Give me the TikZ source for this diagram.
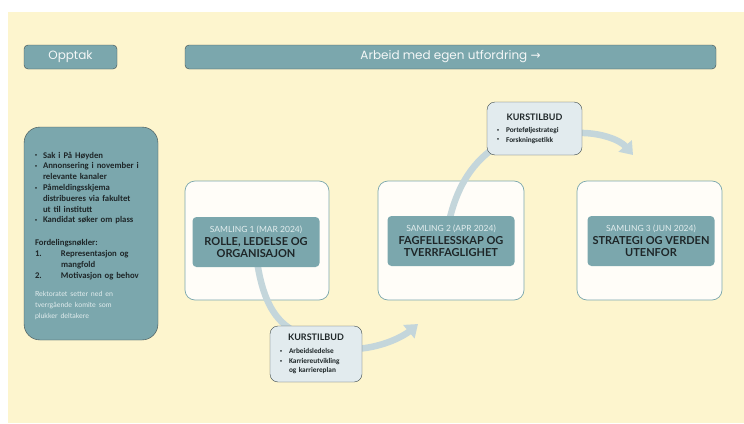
\documentclass[tikz,border=0pt]{standalone}
\usepackage{fontspec}
\setmainfont{Carlito}
\newfontfamily\headfont{Lato}
\newfontfamily\barfont{Poppins}
\newfontfamily\symbfont{DejaVu Sans}
\usetikzlibrary{arrows.meta}
\definecolor{paper}{HTML}{FDF5CE}
\definecolor{tealbox}{HTML}{7BA7AD}
\definecolor{darkline}{HTML}{3E4B4D}
\definecolor{cardfill}{HTML}{FFFDF8}
\definecolor{kursfill}{HTML}{E2EBEE}
\definecolor{flowcol}{HTML}{C4D6DB}
\definecolor{inktext}{HTML}{1E2628}
\definecolor{softtext}{HTML}{E2EDEE}
\definecolor{barwhite}{HTML}{F4F7F7}
\pgfdeclarelayer{back}
\pgfdeclarelayer{mid}
\pgfsetlayers{back,mid,main}
\newcommand\prikk{\raisebox{0.35ex}{\fontsize{4}{4}\selectfont\textbullet}}
\newcommand\bpunkt[2][8pt]{\par\hangindent=#1\hangafter=1\noindent\makebox[#1][l]{\prikk}#2\par}
\newcommand\npunkt[2]{\par\hangindent=26pt\hangafter=1\noindent\makebox[26pt][l]{#1}#2\par}

\begin{document}
\begin{tikzpicture}[x=1pt,y=-1pt,
    bar/.style={draw=darkline,fill=tealbox,rounded corners=4pt,minimum height=24pt,inner sep=0pt,
        text=barwhite,font=\barfont\fontsize{12}{14}\selectfont},
    infobox/.style={draw=darkline,fill=tealbox,rounded corners=16pt,text width=112pt,inner xsep=11pt,
        minimum height=213pt,align=left,text=inktext,font=\bfseries\fontsize{8.7}{10.8}\selectfont},
    card/.style={draw=tealbox,fill=cardfill,rounded corners=10pt,line width=0.7pt,minimum height=119pt},
    theme/.style={fill=tealbox,rounded corners=4pt,minimum width=127pt,minimum height=50pt,inner sep=0pt,
        align=center,text=inktext,font=\headfont\bfseries\fontsize{11}{12.5}\selectfont},
    kurs/.style={draw=darkline,fill=kursfill,rounded corners=8pt,inner xsep=10pt,align=left,
        text=inktext,font=\bfseries\fontsize{7.3}{9.5}\selectfont},
    flow/.style={draw=flowcol,line width=6.5pt},
    flowhead/.style={flow,-{Triangle[width=17pt,length=12pt]}}]

    \useasboundingbox (0,0) rectangle (744,423);

    \begin{pgfonlayer}{back}
        \fill[white] (0,0) rectangle (744,423);
        \fill[paper] (8,12) rectangle (744,423);
        \node[card,minimum width=144pt] (card1) at (257,240.5) {};
        \node[card,minimum width=146pt] (card2) at (451,240.5) {};
        \node[card,minimum width=145pt] (card3) at (649.5,240.5) {};
    \end{pgfonlayer}

    \node[bar,minimum width=93pt] (opptak) at (70.5,57) {Opptak};
    \node[bar,minimum width=531pt] (arbeid) at (450.5,57) {Arbeid med egen utfordring {\symbfont →}};

    \node[infobox] (opptakinfo) at (91,233.5) {
        \bpunkt{Sak i På Høyden}
        \bpunkt{Annonsering i november i\newline relevante kanaler}
        \bpunkt{Påmeldingsskjema\newline distribueres via fakultet\newline ut til institutt}
        \bpunkt{Kandidat søker om plass}
        \vspace{12pt}\noindent Fordelingsnøkler:
        \npunkt{1.}{Representasjon og\newline mangfold}
        \npunkt{2.}{Motivasjon og behov}
        \vspace{8pt}{\headfont\mdseries\fontsize{7}{10.8}\selectfont\color{softtext}\noindent
        Rektoratet setter ned en\newline tverrgående komite som\newline plukker deltakere\par}
    };

    \node[theme] (theme1) at (256,242) {{\mdseries\fontsize{8.5}{12.5}\selectfont\color{softtext}SAMLING 1 (MAR 2024)}\\ROLLE, LEDELSE OG\\ORGANISAJON};
    \node[theme] (theme2) at (451,241) {{\mdseries\fontsize{8.5}{12.5}\selectfont\color{softtext}SAMLING 2 (APR 2024)}\\FAGFELLESSKAP OG\\TVERRFAGLIGHET};
    \node[theme] (theme3) at (651,241) {{\mdseries\fontsize{8.5}{12.5}\selectfont\color{softtext}SAMLING 3 (JUN 2024)}\\STRATEGI OG VERDEN\\UTENFOR};

    \node[kurs,text width=72pt,minimum height=56pt] (kurs1) at (316,354) {
        {\centering\headfont\bfseries\fontsize{9}{12}\selectfont KURSTILBUD\par}\vspace{4pt}
        \bpunkt[9pt]{Arbeidsledelse}
        \bpunkt[9pt]{Karriereutvikling\newline og karriereplan}
    };
    \node[kurs,text width=75pt,minimum height=53pt] (kurs2) at (534.5,128.5) {
        {\centering\headfont\bfseries\fontsize{9}{12}\selectfont KURSTILBUD\par}\vspace{3pt}
        \bpunkt[9pt]{Porteføljestrategi}
        \bpunkt[9pt]{Forskningsetikk}
    };

    \coordinate (tip1) at (418,324);
    \coordinate (tip2) at (633,155);

    \begin{pgfonlayer}{mid}
        \draw[flow] ([xshift=1pt,yshift=6pt]theme1.south) .. controls (262,295) and (272,318) .. ([xshift=-24pt,yshift=-4pt]kurs1.north);
        \draw[flowhead] ([xshift=-6pt,yshift=5pt]kurs1.east) .. controls (385,347) and (405,335) .. (tip1);
        \draw[flow] ([xshift=-2pt,yshift=-6pt]theme2.north) .. controls (456,190) and (470,165) .. ([xshift=7pt,yshift=7pt]kurs2.south west);
        \draw[flowhead] ([xshift=-6pt,yshift=-4.5pt]kurs2.east) .. controls (600,132) and (620,140) .. (tip2);
    \end{pgfonlayer}
\end{tikzpicture}
\end{document}
